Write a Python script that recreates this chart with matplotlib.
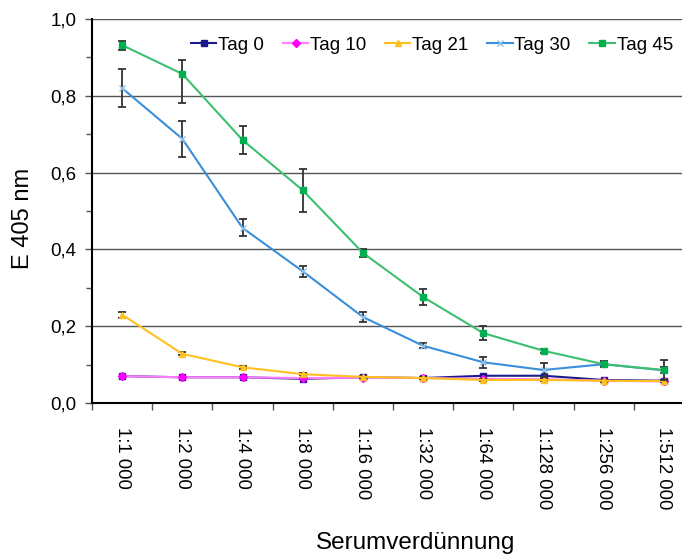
import numpy as np
import matplotlib.pyplot as plt
from matplotlib.container import ErrorbarContainer
from matplotlib.ticker import MultipleLocator, FuncFormatter

plt.rcParams['font.family'] = ['Liberation Sans', 'DejaVu Sans']

# Verdünnungsstufen
verduennung = ['1:1 000', '1:2 000', '1:4 000', '1:8 000', '1:16 000',
               '1:32 000', '1:64 000', '1:128 000', '1:256 000', '1:512 000']

# Extinktion bei 405 nm je Tag
tag_0 = [0.070, 0.067, 0.067, 0.063, 0.067, 0.065, 0.071, 0.071, 0.060, 0.058]
tag_10 = [0.070, 0.067, 0.067, 0.065, 0.066, 0.065, 0.063, 0.062, 0.058, 0.056]
tag_21 = [0.230, 0.128, 0.093, 0.075, 0.068, 0.065, 0.060, 0.060, 0.058, 0.057]
tag_30 = [0.820, 0.688, 0.456, 0.343, 0.224, 0.149, 0.106, 0.086, 0.101, 0.085]
tag_45 = [0.932, 0.857, 0.685, 0.554, 0.391, 0.276, 0.182, 0.136, 0.101, 0.086]

# Standardabweichungen (nur Tag 21, 30, 45)
err_21 = [0.008, 0.004, 0.004, 0.003, 0.003, 0.003, 0.003, 0.003, 0.003, 0.003]
err_30 = [0.050, 0.047, 0.022, 0.015, 0.012, 0.006, 0.014, 0.018, 0.005, 0.008]
err_45_unten = [0.012, 0.075, 0.036, 0.056, 0.010, 0.022, 0.018, 0.005, 0.008, 0.025]
err_45_oben = [0.012, 0.035, 0.036, 0.056, 0.010, 0.022, 0.018, 0.005, 0.008, 0.025]

x = np.arange(len(verduennung))

fig = plt.figure(figsize=(6.82, 5.56), dpi=100)
ax = fig.add_axes([92 / 682, 1 - 403 / 556, 602 / 682, 384 / 556])

ax.grid(axis='y', color='#555555', linewidth=1.0, zorder=0)
ax.set_axisbelow(True)

ekw = dict(ecolor='#333333', elinewidth=1.3, capsize=3, capthick=1.3)

ax.plot(x, tag_0, color='#1A1A8C', marker='s', markersize=4.5, linewidth=1.5,
        label='Tag 0', zorder=3)
ax.plot(x, tag_10, color='#FF80FF', marker='D', markersize=4,
        markerfacecolor='#FF00FF', markeredgecolor='#FF00FF', linewidth=1.5,
        label='Tag 10', zorder=3)
ax.errorbar(x, tag_21, yerr=err_21, color='#FFC020', marker='^', markersize=5,
            linewidth=1.5, label='Tag 21', zorder=4, **ekw)
ax.errorbar(x, tag_30, yerr=err_30, color='#3A8EDB', marker='x', markersize=5,
            markeredgecolor='#8EC0EE', linewidth=1.5, label='Tag 30', zorder=5, **ekw)
ax.errorbar(x, tag_45, yerr=[err_45_unten, err_45_oben], color='#3CC070',
            marker='s', markersize=5, markerfacecolor='#00B050',
            markeredgecolor='#00B050', linewidth=1.5, label='Tag 45', zorder=6, **ekw)

ax.set_xlim(-0.5, len(verduennung) - 0.5)
ax.set_ylim(0, 1.0)
ax.yaxis.set_major_locator(MultipleLocator(0.2))
ax.yaxis.set_minor_locator(MultipleLocator(0.1))
ax.yaxis.set_major_formatter(FuncFormatter(lambda v, p: f'{v:.1f}'.replace('.', ',')))

ax.set_xticks(np.arange(len(verduennung) + 1) - 0.5, minor=False)
ax.set_xticklabels([])
ax.set_xticks(x, minor=True)
ax.set_xticklabels(verduennung, minor=True, rotation=-90, fontsize=13.3,
                   va='top', ha='center')
ax.tick_params(axis='x', which='major', direction='out', length=5, width=1, color='#555555')
ax.tick_params(axis='x', which='minor', length=0, pad=17)
ax.tick_params(axis='y', which='major', direction='out', length=5, width=1,
               labelsize=13.5, pad=6, color='#555555')
ax.tick_params(axis='y', which='minor', direction='out', length=4, width=1, color='#555555')

for s in ['top', 'right']:
    ax.spines[s].set_visible(False)
ax.spines['left'].set_linewidth(1.5)
ax.spines['bottom'].set_linewidth(1.5)

fig.text(23 / 682, 1 - 218 / 556, 'E 405 nm', fontsize=17, rotation=90,
         ha='center', va='center')
fig.text(416 / 682, 1 - 543 / 556, 'Serumverdünnung', fontsize=17.5,
         ha='center', va='center')

# Legende ohne Fehlerbalken-Symbole
handles, labels = ax.get_legend_handles_labels()
handles = [h[0] if isinstance(h, ErrorbarContainer) else h for h in handles]
fig.legend(handles, labels, loc='center', bbox_to_anchor=(432 / 682, 1 - 45 / 556),
           ncol=5, frameon=False, fontsize=13.5, handlelength=1.35,
           handletextpad=0.1, columnspacing=1.0, borderaxespad=0)

fig.savefig('out.png', dpi=100)
